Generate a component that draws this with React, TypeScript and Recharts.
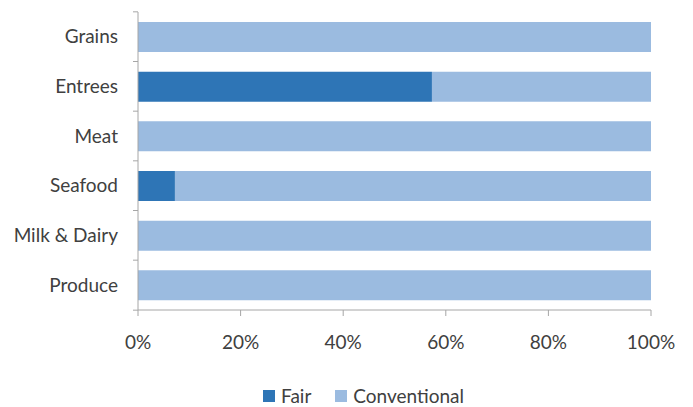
import React from "react";
import { BarChart, Bar, XAxis, YAxis, Legend } from "recharts";

const CATEGORIES = ["Grains", "Entrees", "Meat", "Seafood", "Milk & Dairy", "Produce"];
const FAIR = [0, 57.3, 0, 7.2, 0, 0];
const CONVENTIONAL = [100, 42.7, 100, 92.8, 100, 100];
const X_TICKS = [0, 20, 40, 60, 80, 100];

const FAIR_COLOR = "#2E75B6";
const CONV_COLOR = "#9BBBE0";
const AXIS_COLOR = "#A6A6A6";
const TEXT_COLOR = "#404040";
const FONT = "Lato, 'Noto Sans', sans-serif";
const FONT_SIZE = 19;

const data = CATEGORIES.map((name, i) => ({
  name,
  fair: FAIR[i],
  conventional: CONVENTIONAL[i],
}));

const HALF_BAND = 25;

// tick lines sit between categories (Excel style), label at band centre
// eslint-disable-next-line @typescript-eslint/no-explicit-any
function CategoryTick(props: any) {
  const { x, y, payload, index, visibleTicksCount } = props;
  const axisX = x + 15;
  return (
    <g>
      <line x1={axisX - 5} x2={axisX} y1={y - HALF_BAND} y2={y - HALF_BAND} stroke={AXIS_COLOR} />
      {index === visibleTicksCount - 1 && (
        <line x1={axisX - 5} x2={axisX} y1={y + HALF_BAND} y2={y + HALF_BAND} stroke={AXIS_COLOR} />
      )}
      <text x={x - 5} y={y} dy="0.35em" textAnchor="end" fill={TEXT_COLOR} fontSize={FONT_SIZE} fontFamily={FONT}>
        {payload.value}
      </text>
    </g>
  );
}

function LegendContent() {
  const items = [
    { label: "Fair", color: FAIR_COLOR },
    { label: "Conventional", color: CONV_COLOR },
  ];
  return (
    <div style={{ display: "flex", paddingLeft: 263, gap: 24, fontFamily: FONT, fontSize: FONT_SIZE, color: TEXT_COLOR, lineHeight: "22px" }}>
      {items.map((it) => (
        <div key={it.label} style={{ display: "flex", alignItems: "center" }}>
          <span style={{ width: 12, height: 12, background: it.color, marginRight: 6, display: "inline-block" }} />
          {it.label}
        </div>
      ))}
    </div>
  );
}

export default function App() {
  return (
    <div style={{ position: "absolute", left: 0, top: 0, width: 693, height: 407, background: "#fff" }}>
      <BarChart
        width={693}
        height={407}
        data={data}
        layout="vertical"
        barCategoryGap={10}
        margin={{ top: 12, right: 42, bottom: 35, left: 0 }}
      >
        <XAxis
          type="number"
          domain={[0, 100]}
          ticks={X_TICKS}
          tickFormatter={(v: number) => `${v}%`}
          stroke={AXIS_COLOR}
          tickSize={6}
          tickMargin={20}
          height={40}
          tick={{ fill: TEXT_COLOR, fontSize: FONT_SIZE, fontFamily: FONT }}
        />
        <YAxis
          type="category"
          dataKey="name"
          width={138}
          stroke={AXIS_COLOR}
          tickLine={false}
          tickSize={0}
          tickMargin={15}
          tick={<CategoryTick />}
          interval={0}
        />
        <Legend
          verticalAlign="bottom"
          content={<LegendContent />}
          wrapperStyle={{ position: "absolute", top: 385, left: 0, width: 693 }}
        />
        <Bar dataKey="fair" stackId="a" fill={FAIR_COLOR} barSize={30} isAnimationActive={false} name="Fair" />
        <Bar dataKey="conventional" stackId="a" fill={CONV_COLOR} barSize={30} isAnimationActive={false} name="Conventional" />
      </BarChart>
    </div>
  );
}
